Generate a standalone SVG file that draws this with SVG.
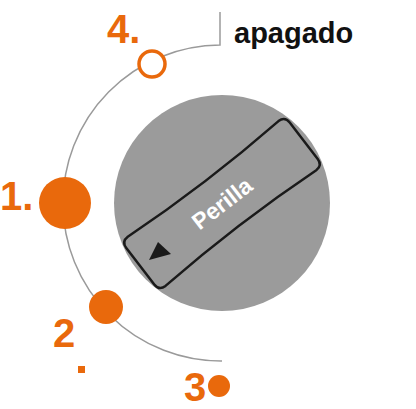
<svg xmlns="http://www.w3.org/2000/svg" width="416" height="409" viewBox="0 0 416 409">
<style>
.num{font-family:"Liberation Sans",Arial,sans-serif;font-weight:bold;fill:#E9690C;font-size:40px}
.lbl{font-family:"Liberation Sans",Arial,sans-serif;font-weight:bold;fill:#111;font-size:29px}
.orange{fill:#E9690C}
</style>
<rect width="416" height="409" fill="#fff"/>
<g id="connectors">
<path d="M220,12 V45 A157,157 0 0 0 222,361" fill="none" stroke="#9a9a9a" stroke-width="1.5"/>
</g>
<g id="knob">
<circle cx="222" cy="203" r="108" fill="#9b9b9b"/>
<g transform="translate(222,203.5) rotate(-37.5)">
<path d="M-95,-31 Q0,-25 95,-31 Q103,-31 103,-23 V23 Q103,31 95,31 Q0,25 -95,31 Q-103,31 -103,23 V-23 Q-103,-31 -95,-31 Z" fill="#9b9b9b" stroke="#1a1a1a" stroke-width="2.5"/>
<text x="0" y="8" text-anchor="middle" font-family="Liberation Sans,Arial,sans-serif" font-weight="bold" font-size="23" fill="#fff">Perilla</text>
</g>
<polygon points="158,242 171,254 149,260" fill="#1a1a1a"/>
</g>
<g id="pos4">
<circle cx="152" cy="64" r="13" fill="#fff" stroke="#E9690C" stroke-width="3.5"/>
<text class="num" x="107" y="43">4.</text>
</g>
<g id="off">
<text class="lbl" x="234" y="43">apagado</text>
</g>
<g id="pos1">
<circle class="orange" cx="65" cy="203" r="26"/>
<text class="num" x="0" y="210">1.</text>
</g>
<g id="pos2">
<circle class="orange" cx="106" cy="307" r="17"/>
<text class="num" x="53" y="347">2</text>
<rect class="orange" x="78" y="366" width="7" height="7"/>
</g>
<g id="pos3">
<circle class="orange" cx="219" cy="386" r="11"/>
<text class="num" x="184" y="401">3</text>
</g>
</svg>
